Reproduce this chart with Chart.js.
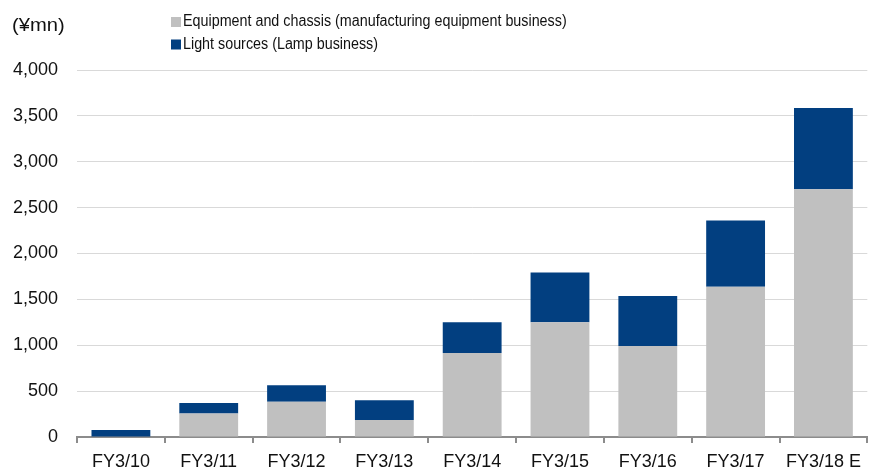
<!DOCTYPE html>
<html>
<head>
<meta charset="utf-8">
<script src="https://cdn.jsdelivr.net/npm/chart.js@4/dist/chart.umd.min.js"></script>
<style>
  html, body { margin: 0; padding: 0; background: #fff; }
  #wrap { width: 871px; height: 471px; position: relative; }
</style>
</head>
<body>
<div id="wrap"><canvas id="myChart"></canvas></div>
<script>
var categories = ['FY3/10', 'FY3/11', 'FY3/12', 'FY3/13', 'FY3/14', 'FY3/15', 'FY3/16', 'FY3/17', 'FY3/18 E'];
var equipment = [5, 255, 385, 185, 915, 1250, 992, 1637, 2700];
var lightSources = [72, 115, 178, 215, 335, 543, 544, 722, 885];
var seriesNames = ['Equipment and chassis (manufacturing equipment business)', 'Light sources (Lamp business)'];
var unitLabel = '(\u00a5mn)';

var FONT = '"Liberation Sans", Arial, sans-serif';

// legend + unit label drawn on the canvas, stacked in two rows
var topLegend = {
    id: 'topLegend',
    afterDraw: function (chart) {
        var ctx = chart.ctx;
        ctx.save();
        ctx.textBaseline = 'middle';
        ctx.textAlign = 'left';
        ctx.fillStyle = '#111';
        ctx.font = '18px ' + FONT;
        ctx.save();
        ctx.translate(12, 26);
        ctx.scale(1.12, 1);
        ctx.fillText(unitLabel, 0, 0);
        ctx.restore();

        chart.data.datasets.forEach(function (ds, i) {
            var y = 22 + i * 22.5;
            ctx.fillStyle = ds.backgroundColor;
            ctx.fillRect(171, y - 5, 10, 10);
            ctx.fillStyle = '#111';
            ctx.font = '16px ' + FONT;
            // the original font is narrower, squeeze it a bit
            ctx.save();
            ctx.translate(183, y);
            ctx.scale(0.895, 1);
            ctx.fillText(ds.label, 0, 0);
            ctx.restore();
        });
        ctx.restore();
    }
};

var ctx = document.getElementById('myChart').getContext('2d');
var myChart = new Chart(ctx, {
    type: 'bar',
    data: {
        labels: categories,
        datasets: [
            {
                label: seriesNames[0],
                data: equipment,
                backgroundColor: '#c0c0c0',
                borderWidth: 0,
                barPercentage: 0.67,
                categoryPercentage: 1
            },
            {
                label: seriesNames[1],
                data: lightSources,
                backgroundColor: '#023f80',
                borderWidth: 0,
                barPercentage: 0.67,
                categoryPercentage: 1
            }
        ]
    },
    options: {
        responsive: true,
        maintainAspectRatio: false,
        animation: false,
        layout: {
            padding: { top: 70, left: 12, right: 1, bottom: 0 }
        },
        scales: {
            x: {
                stacked: true,
                afterFit: function (scale) { scale.height = 34; },
                grid: {
                    offset: true,
                    drawOnChartArea: false,
                    drawTicks: true,
                    tickLength: 6,
                    color: '#8c8c8c',
                    lineWidth: 2
                },
                border: { display: true, color: '#8c8c8c', width: 2 },
                ticks: {
                    color: '#111',
                    font: { family: FONT, size: 18, lineHeight: 1 },
                    padding: 10,
                    maxRotation: 0,
                    autoSkip: false
                }
            },
            y: {
                stacked: true,
                min: 0,
                max: 4000,
                afterFit: function (scale) { scale.width = 65; },
                grid: {
                    color: '#d9d9d9',
                    lineWidth: 1,
                    drawTicks: false
                },
                border: { display: false },
                ticks: {
                    stepSize: 500,
                    color: '#111',
                    padding: 19,
                    font: { family: FONT, size: 18 },
                    callback: function (v) { return v.toLocaleString('en-US'); }
                }
            }
        },
        plugins: {
            legend: { display: false },
            tooltip: { enabled: false }
        }
    },
    plugins: [topLegend]
});
</script>
</body>
</html>
